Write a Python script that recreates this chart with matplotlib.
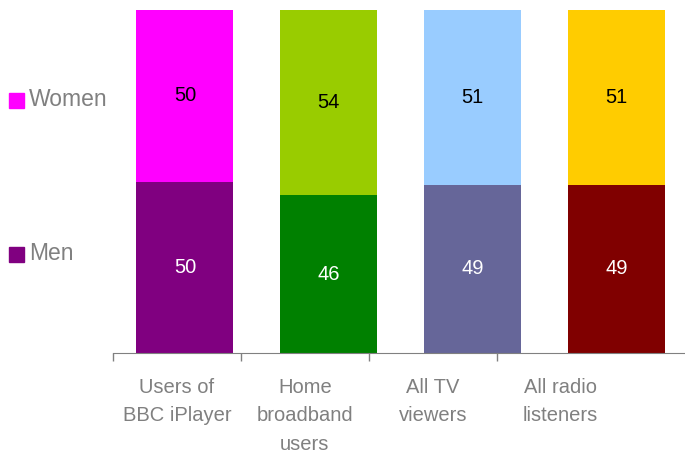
import matplotlib.pyplot as plt
from matplotlib.patches import Rectangle

plt.rcParams['font.family'] = ['Liberation Sans', 'DejaVu Sans']

# -- data
categories = ['Users of\nBBC iPlayer', 'Home\nbroadband\nusers', 'All TV\nviewers', 'All radio\nlisteners']
men = [50, 46, 49, 49]
women = [50, 54, 51, 51]
men_colors = ['#800080', '#008000', '#666699', '#800000']
women_colors = ['#FF00FF', '#99CC00', '#99CCFF', '#FFCC00']

W, H = 685, 455
fig = plt.figure(figsize=(W / 100, H / 100), dpi=100)
ax = fig.add_axes([113 / W, 1 - 353 / H, 1 - 113 / W, (353 - 10) / H])

x = range(len(categories))
bw = 97 / 144
b1 = ax.bar(x, men, width=bw, color=men_colors)
b2 = ax.bar(x, women, width=bw, bottom=men, color=women_colors)
ax.bar_label(b1, label_type='center', color='white', fontsize=14.5)
ax.bar_label(b2, label_type='center', color='black', fontsize=14.5)

ax.set_xlim(-0.5, (685 - 184.5) / 144)
ax.set_ylim(0, 100)

for s in ['top', 'right', 'left']:
    ax.spines[s].set_visible(False)
ax.spines['bottom'].set_color('#808080')
ax.set_yticks([])

# category grid in the reference is narrower than the bar spacing
step = 128 / 144
ax.set_xticks([-0.5 + (k + 0.5) * step for k in range(4)])
ax.set_xticklabels(categories, color='#808080', fontsize=14.5, linespacing=1.62)
ax.tick_params(axis='x', which='major', length=0, pad=18)
ax.set_xticks([-0.5 + k * step for k in range(4)], minor=True)
ax.tick_params(axis='x', which='minor', length=6, color='#808080', width=1)

# -- legend
for label, col, yc in [('Women', '#FF00FF', 100), ('Men', '#800080', 254)]:
    fig.add_artist(Rectangle((9 / W, 1 - (yc + 7.5) / H), 15 / W, 15 / H,
                             transform=fig.transFigure, color=col))
    fig.text(29 / W, 1 - yc / H, label, color='#808080', fontsize=16.5, va='center')

fig.savefig('out.png', dpi=100)
